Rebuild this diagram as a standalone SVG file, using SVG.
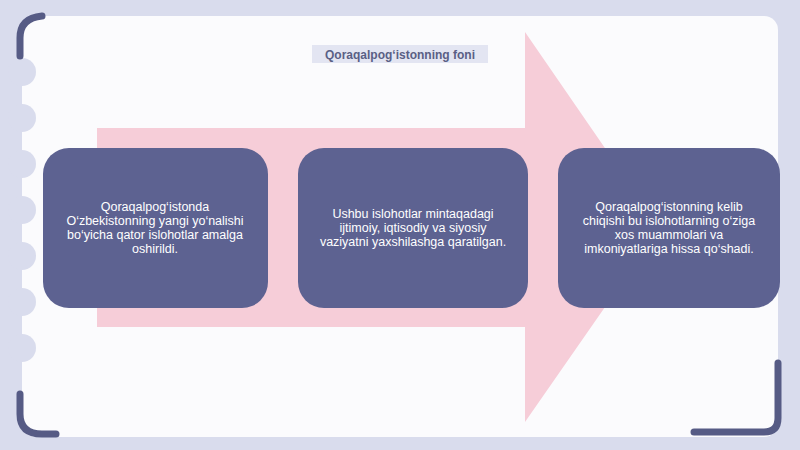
<svg xmlns="http://www.w3.org/2000/svg" width="800" height="450" viewBox="0 0 800 450">
<style>
.box{fill:#5d6291}
.t{font-family:"Liberation Sans",Arial,sans-serif;font-size:12.5px;fill:#ffffff;text-anchor:middle}
.br{fill:none;stroke:#565b85;stroke-width:7;stroke-linecap:round}
.sc{fill:#d9dced}
</style>
<rect width="800" height="450" fill="#d9dced"/>
<rect x="22" y="16" width="756" height="421" rx="14" fill="#fbfbfd"/>
<g>
<circle class="sc" cx="22" cy="72" r="14"/><circle class="sc" cx="22" cy="118" r="14"/><circle class="sc" cx="22" cy="164" r="14"/><circle class="sc" cx="22" cy="210" r="14"/><circle class="sc" cx="22" cy="256" r="14"/><circle class="sc" cx="22" cy="302" r="14"/><circle class="sc" cx="22" cy="348" r="14"/>
</g>
<path class="br" d="M20 56 V38 Q20 18 42 16"/>
<path class="br" d="M20 394 V414 Q20 434 42 434 H56"/>
<path class="br" d="M778 363 V418 Q778 432 764 432 H694"/>
<polygon points="97,128 525,128 525,32 660,228 525,422 525,327 97,327" fill="#f6cdd8"/>
<rect x="312" y="45" width="176" height="18" fill="#e3e5f2"/>
<text x="400" y="59" style="font-family:'Liberation Sans',Arial,sans-serif;font-size:12px;font-weight:bold;fill:#5a5f85;text-anchor:middle">Qoraqalpog‘istonning foni</text>
<g id="node1"><rect class="box" x="43" y="148" width="225" height="160" rx="26"/>
<text class="t" x="155" y="211">Qoraqalpog‘istonda</text><text class="t" x="155" y="225">O‘zbekistonning yangi yo‘nalishi</text><text class="t" x="155" y="239">bo‘yicha qator islohotlar amalga</text><text class="t" x="155" y="253">oshirildi.</text></g>
<g id="node2"><rect class="box" x="298" y="148" width="230" height="160" rx="26"/>
<text class="t" x="413" y="218">Ushbu islohotlar mintaqadagi</text><text class="t" x="413" y="232">ijtimoiy, iqtisodiy va siyosiy</text><text class="t" x="413" y="246">vaziyatni yaxshilashga qaratilgan.</text></g>
<g id="node3"><rect class="box" x="558" y="148" width="222" height="160" rx="26"/>
<text class="t" x="669" y="211">Qoraqalpog‘istonning kelib</text><text class="t" x="669" y="225">chiqishi bu islohotlarning o‘ziga</text><text class="t" x="669" y="239">xos muammolari va</text><text class="t" x="669" y="253">imkoniyatlariga hissa qo‘shadi.</text></g>
<g id="connectors"></g>
</svg>
